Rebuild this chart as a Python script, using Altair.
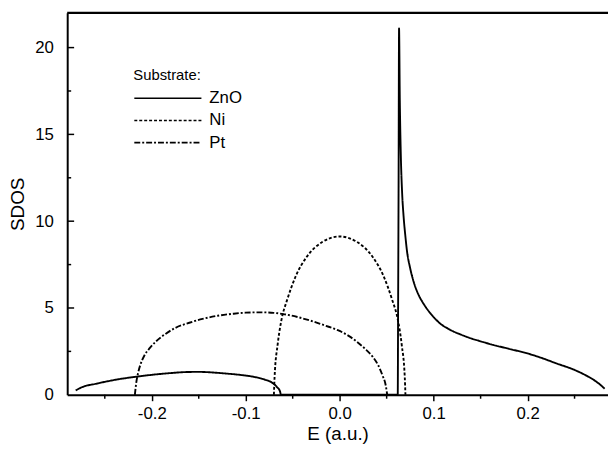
import altair as alt
import pandas as pd

# ---- data ----
zno_x = [-0.281, -0.275, -0.258, -0.237, -0.215, -0.198, -0.180, -0.163, -0.150, -0.134,
         -0.120, -0.105, -0.092, -0.080, -0.072, -0.067, -0.0635, -0.0625,
         0.0618, 0.0622, 0.0627, 0.0632, 0.0640, 0.0650, 0.0665, 0.068, 0.070, 0.0716,
         0.075, 0.079, 0.0845, 0.0898, 0.095, 0.100, 0.107, 0.114, 0.121, 0.128, 0.135,
         0.150, 0.163, 0.180, 0.200, 0.215, 0.230, 0.250, 0.262, 0.272, 0.278, 0.282]
zno_y = [0.25, 0.42, 0.65, 0.88, 1.05, 1.16, 1.25, 1.31, 1.32, 1.28,
         1.22, 1.14, 1.04, 0.88, 0.70, 0.46, 0.2, 0.0,
         0.0, 5.0, 12.0, 21.1, 17.0, 14.0, 11.6, 10.3, 9.1, 8.3,
         7.3, 6.46, 5.7, 5.2, 4.8, 4.48, 4.1, 3.85, 3.65, 3.49, 3.34,
         3.08, 2.88, 2.65, 2.38, 2.12, 1.82, 1.43, 1.12, 0.80, 0.55, 0.35]

ni_x = [-0.0700, -0.0693, -0.066, -0.062, -0.0557, -0.047, -0.035, -0.0186, 0.0,
        0.0186, 0.035, 0.047, 0.0557, 0.062, 0.066, 0.0693, 0.0700]
ni_y = [0.0, 1.0, 2.9, 4.3, 5.5, 6.8, 7.95, 8.8, 9.12,
        8.8, 7.95, 6.8, 5.5, 4.3, 2.9, 1.0, 0.0]

pt_x = [-0.218, -0.2165, -0.2148, -0.212, -0.208, -0.202, -0.196, -0.185, -0.175, -0.160,
        -0.146, -0.130, -0.113, -0.100, -0.0845, -0.070, -0.060, -0.045, -0.031, -0.015,
        -0.002, 0.010, 0.0186, 0.027, 0.035, 0.041, 0.0457, 0.049, 0.0506]
pt_y = [0.0, 0.7, 1.2, 1.75, 2.25, 2.7, 3.05, 3.52, 3.85, 4.15,
        4.37, 4.55, 4.67, 4.73, 4.75, 4.72, 4.65, 4.48, 4.27, 3.98,
        3.72, 3.38, 3.04, 2.65, 2.2, 1.7, 1.1, 0.55, 0.0]

series_names = ["ZnO", "Ni", "Pt"]
x_ticks = [-0.2, -0.1, 0.0, 0.1, 0.2]
x_minor = [-0.25, -0.15, -0.05, 0.05, 0.15, 0.25]
y_ticks = [5, 10, 15, 20]
y_minor = [2.5, 7.5, 12.5, 17.5]

rows = []
for name, xs, ys in [("ZnO", zno_x, zno_y), ("Ni", ni_x, ni_y), ("Pt", pt_x, pt_y)]:
    for i, (a, b) in enumerate(zip(xs, ys)):
        rows.append({"E": a, "SDOS": b, "series": name, "order": i})
df = pd.DataFrame(rows)

W, H = 548, 387
FONT = "Liberation Sans"

xscale = alt.Scale(domain=[-0.29, 0.2856], nice=False, zero=False)
yscale = alt.Scale(domain=[0, 22], nice=False)

lines = alt.Chart(df).mark_line(color="black", strokeWidth=1.9, interpolate="monotone").encode(
    x=alt.X("E:Q", scale=xscale, title="E (a.u.)",
            axis=alt.Axis(values=x_ticks, format=".1f",
                          labelExpr="replace(datum.label, '\u2212', '-')",
                          tickSize=6, tickWidth=1.5, labelPadding=5, titlePadding=3)),
    y=alt.Y("SDOS:Q", scale=yscale, title="SDOS",
            axis=alt.Axis(values=[0] + y_ticks, ticks=False, labelPadding=14, titlePadding=7)),
    strokeDash=alt.StrokeDash(
        "series:N",
        scale=alt.Scale(domain=series_names, range=[[1, 0], [3, 2], [6, 2, 2, 2]]),
        legend=alt.Legend(title="Substrate:", orient="none", legendX=67, legendY=56,
                          symbolType="stroke", symbolSize=4624, symbolStrokeWidth=1.6,
                          symbolStrokeColor="black", clipHeight=17, rowPadding=4.5,
                          labelFontSize=17, labelOffset=7, titleFontSize=15,
                          titleFontWeight="normal", titlePadding=7,
                          labelFont=FONT, titleFont=FONT, labelColor="black",
                          titleColor="black"),
    ),
    order="order:Q",
    detail="series:N",
)

top_border = alt.Chart(pd.DataFrame({"v": [22]})).mark_rule(color="black", strokeWidth=2.5).encode(
    y=alt.Y("v:Q", scale=yscale), x=alt.value(0), x2=alt.value(W))

xminor = alt.Chart(pd.DataFrame({"v": x_minor})).mark_rule(color="black", strokeWidth=1.5).encode(
    x=alt.X("v:Q", scale=xscale), y=alt.value(H), y2=alt.value(H + 4))

ymajor = alt.Chart(pd.DataFrame({"v": y_ticks})).mark_rule(color="black", strokeWidth=1.5).encode(
    y=alt.Y("v:Q", scale=yscale), x=alt.value(0), x2=alt.value(7))
yminor = alt.Chart(pd.DataFrame({"v": y_minor})).mark_rule(color="black", strokeWidth=1.5).encode(
    y=alt.Y("v:Q", scale=yscale), x=alt.value(0), x2=alt.value(4))

chart = alt.layer(lines, top_border, xminor, ymajor, yminor).properties(
    width=W, height=H,
    autosize=alt.AutoSizeParams(type="none"),
    padding={"left": 60, "top": 2, "right": 0, "bottom": 52},
).configure_view(stroke=None).configure_axis(
    grid=False, domainColor="black", domainWidth=2, tickColor="black",
    labelFont=FONT, titleFont=FONT, labelFontSize=17, titleFontSize=19,
    titleFontWeight="normal", labelColor="black", titleColor="black",
)

chart.save("out.html", embed_options={"renderer": "svg", "actions": False})
